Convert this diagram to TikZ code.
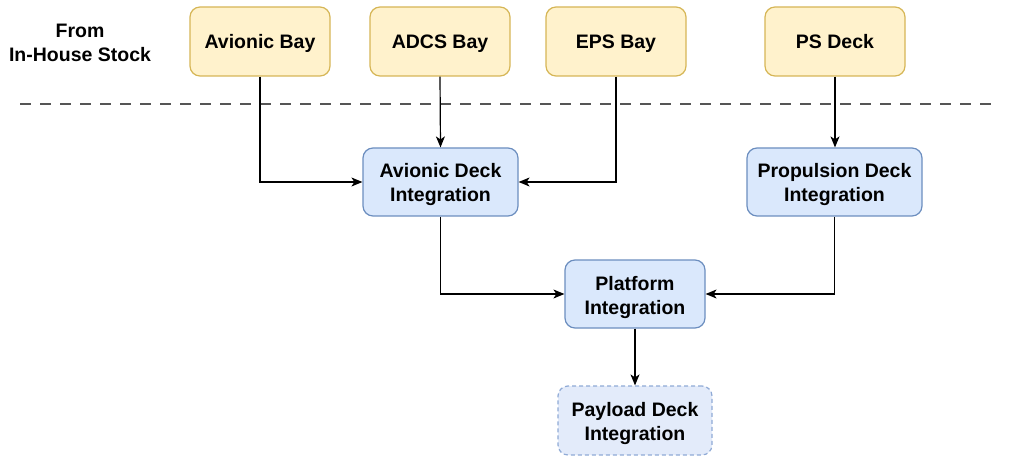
\documentclass[tikz,border=0pt]{standalone}
\usepackage{fontspec}
\setmainfont{Liberation Sans}
\usetikzlibrary{arrows.meta,positioning,calc}
\definecolor{yfill}{HTML}{FFF2CC}
\definecolor{ydraw}{HTML}{D6B656}
\definecolor{bfill}{HTML}{DAE8FC}
\definecolor{bdraw}{HTML}{6C8EBF}
\definecolor{pfill}{HTML}{E3EBFA}
\definecolor{pdraw}{HTML}{8FAAD6}
\definecolor{dline}{HTML}{555555}
\tikzset{
  x=1pt,y=-1pt,
  boxbase/.style={rounded corners=10pt, line width=1.2pt, inner sep=0pt},
  ybox/.style={boxbase, fill=yfill, draw=ydraw, minimum width=140pt, minimum height=69pt},
  bbox/.style={boxbase, fill=bfill, draw=bdraw, minimum height=68pt},
  pbox/.style={boxbase, fill=pfill, draw=pdraw, dash pattern=on 4pt off 3pt, minimum width=154pt, minimum height=69pt},
  conn/.style={line width=1.2pt, -{Stealth[length=11pt,width=9pt,inset=3pt]}},
  lbl/.style={align=center, inner sep=0pt, font=\fontsize{19.5}{24}\selectfont\bfseries},
  one/.style={lbl, text height=14pt, text depth=0pt}
}
\begin{document}
\begin{tikzpicture}
\useasboundingbox (0,0) rectangle (1009,457);
\node[lbl] (from) at (80,43) {From\\In-House Stock};
\node[ybox] (avb) at (260,41.5) {};
\node[ybox] (adcs) at (440,41.5) {};
\node[ybox] (eps) at (616,41.5) {};
\node[ybox] (ps) at (835,41.5) {};
\node[one] (tavb) at ($(avb.center)+(0,0)$) {Avionic Bay};
\node[one] (tadcs) at ($(adcs.center)+(0,0)$) {ADCS Bay};
\node[one] (teps) at ($(eps.center)+(0,0)$) {EPS Bay};
\node[one] (tps) at ($(ps.center)+(0,0)$) {PS Deck};
\coordinate (dl) at (20,104);
\coordinate (dr) at (1000,104);
\draw[dline, line width=1.2pt, dash pattern=on 11pt off 9pt] (dl) -- (dr);
\node[bbox, minimum width=155pt] (adi) at (440.5,182) {};
\node[bbox, minimum width=175pt] (pdi) at (834.5,182) {};
\node[bbox, minimum width=140pt] (pi) at (635,294) {};
\node[pbox] (pay) at (635,420.5) {};
\node[lbl] (tadi) at ($(adi.center)+(0,3)$) {Avionic Deck\\Integration};
\node[lbl] (tpdi) at ($(pdi.center)+(0,3)$) {Propulsion Deck\\Integration};
\node[lbl] (tpi) at ($(pi.center)+(0,3)$) {Platform\\Integration};
\node[lbl] (tpay) at ($(pay.center)+(0,3)$) {Payload Deck\\Integration};
\draw[conn] (avb.south) |- (adi.west);
\draw[conn] (adcs.south) -- (adi.north);
\draw[conn] (eps.south) |- (adi.east);
\draw[conn] (ps.south) -- (ps.south |- pdi.north);
\draw[conn] (adi.south) |- (pi.west);
\draw[conn] (pdi.south) |- (pi.east);
\draw[conn] (pi.south) -- (pay.north);
\end{tikzpicture}
\end{document}
